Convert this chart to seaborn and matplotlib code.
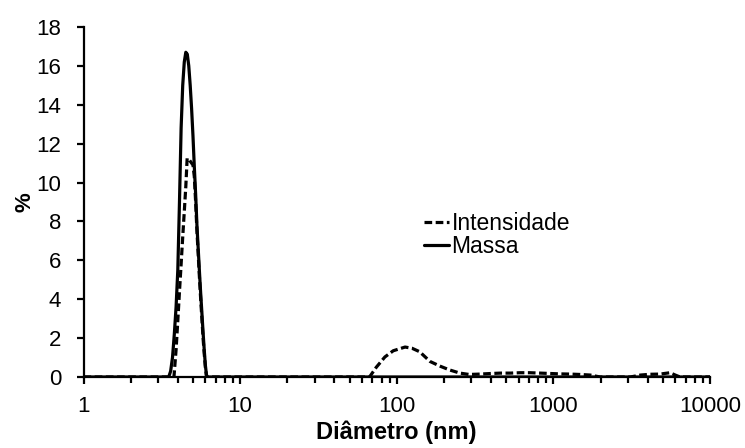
import matplotlib
matplotlib.use("Agg")
import matplotlib.pyplot as plt
from matplotlib.ticker import FixedLocator, NullFormatter
import seaborn as sns
import pandas as pd

# --- data ---
diam_int = [1, 3.7, 3.78, 3.9, 4.0, 4.1, 4.2, 4.3, 4.4, 4.5, 4.59, 4.7, 4.8, 4.9, 5.0, 5.1, 5.2, 5.3,
            5.4, 5.5, 5.6, 5.7, 5.8, 5.9, 6.0, 6.1,
            60, 67, 74, 84, 95, 113, 125, 140, 163, 190, 218, 253, 290, 340, 400, 460, 530,
            615, 710, 825, 955, 1100, 1280, 1480, 1720, 1990, 3100, 3600, 4150, 4800, 5560, 6000, 6440, 10000]
intensidade = [0, 0, 0, 1.4, 2.9, 4.4, 5.8, 7.2, 8.5, 9.8, 11.25, 11.2, 11.1, 11.0, 10.9, 10.3, 9.0, 7.5,
               6.3, 5.1, 4.0, 3.0, 2.0, 1.2, 0.5, 0,
               0, 0, 0.5, 1.03, 1.35, 1.54, 1.48, 1.3, 0.8, 0.55, 0.36, 0.2, 0.13, 0.15, 0.18, 0.2, 0.2,
               0.22, 0.22, 0.2, 0.18, 0.16, 0.15, 0.13, 0.1, 0, 0, 0.1, 0.14, 0.15, 0.22, 0.1, 0, 0]

diam_mass = [1, 3.5, 3.6, 3.7, 3.8, 3.9, 4.0, 4.1, 4.2, 4.3, 4.4, 4.5, 4.6, 4.7, 4.8, 4.9, 5.0, 5.1,
             5.2, 5.3, 5.4, 5.5, 5.6, 5.7, 5.8, 5.9, 6.0, 6.1, 6.2, 10000]
massa = [0, 0, 0.3, 1.0, 2.2, 3.6, 5.5, 9.0, 12.8, 15.0, 16.2, 16.7, 16.6, 16.0, 15.0, 13.8, 12.4, 10.8,
         9.4, 7.8, 6.6, 5.4, 4.3, 3.3, 2.3, 1.4, 0.6, 0.1, 0, 0]

series_names = ["Intensidade", "Massa"]
x_ticks = [1, 10, 100, 1000, 10000]
x_ticklabels = ["1", "10", "100", "1000", "10000"]
y_ticks = [0, 2, 4, 6, 8, 10, 12, 14, 16, 18]

df = pd.concat([
    pd.DataFrame({"d": diam_int, "v": intensidade, "s": series_names[0]}),
    pd.DataFrame({"d": diam_mass, "v": massa, "s": series_names[1]}),
], ignore_index=True)

sns.set_theme(style="white")
plt.rcParams["font.family"] = ["Liberation Sans", "DejaVu Sans"]

fig = plt.figure(figsize=(7.45, 4.48), dpi=100)
ax = fig.add_axes([83.5 / 745, 1 - 377 / 448, (710 - 83.5) / 745, (377 - 27) / 448])

sns.lineplot(data=df, x="d", y="v", hue="s", style="s",
             palette={series_names[0]: "black", series_names[1]: "black"},
             dashes={series_names[0]: (2.4, 1.1), series_names[1]: ""},
             linewidth=2.3, estimator=None, sort=True, ax=ax)

ax.set_xscale("log")
ax.set_xlim(1, 10000)
ax.set_ylim(0, 18)
ax.xaxis.set_major_locator(FixedLocator(x_ticks))
ax.set_xticklabels(x_ticklabels)
ax.xaxis.set_minor_locator(FixedLocator([m * 10 ** e for e in range(0, 4) for m in range(2, 10)]))
ax.xaxis.set_minor_formatter(NullFormatter())
ax.set_yticks(y_ticks)
ax.set_yticklabels([str(v) for v in y_ticks])

for side in ["top", "right"]:
    ax.spines[side].set_visible(False)
for side in ["left", "bottom"]:
    ax.spines[side].set_color("black")
    ax.spines[side].set_linewidth(1.6)

ax.tick_params(axis="both", which="major", direction="out", length=5, width=1.6,
               color="black", labelsize=16, labelcolor="black")
ax.tick_params(axis="x", which="minor", direction="out", length=4, width=1.6,
               color="black", bottom=True)
ax.tick_params(axis="x", which="major", bottom=True, pad=9)
ax.tick_params(axis="y", which="major", left=True, pad=11)

ax.set_xlabel("Diâmetro (nm)", fontsize=17, fontweight="bold", color="black", labelpad=2)
ax.set_ylabel("%", fontsize=16, fontweight="bold", color="black", labelpad=1)

leg = ax.legend(loc="upper left", bbox_to_anchor=(424 / 745, 1 - 212 / 448),
                bbox_transform=fig.transFigure, frameon=False, fontsize=16.5,
                handlelength=1.1, handletextpad=0.1, labelspacing=0.0, borderpad=0,
                borderaxespad=0)
for t in leg.get_texts():
    t.set_color("black")

fig.savefig("out.png", dpi=100)
